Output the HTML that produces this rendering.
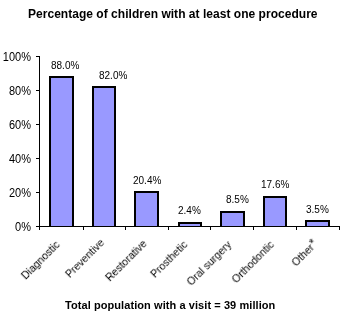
<!DOCTYPE html>
<html><head><meta charset="utf-8">
<style>
html,body{margin:0;padding:0;background:#fff;width:350px;height:320px;overflow:hidden;position:relative}
*{box-sizing:border-box}
.t{will-change:transform;position:absolute;font-family:"Liberation Sans",sans-serif;color:#000;white-space:nowrap;line-height:1}
.b{position:absolute;background:#9999ff;border:2px solid #000;border-bottom:0}
.l{position:absolute;background:#000}
.yl{font-size:11px;text-align:right;width:40px;transform:scaleY(1.12)}
.dl{font-size:10px}
.cl{font-size:10.5px;transform-origin:100% 0;transform:rotate(-45deg)}
</style></head><body>
<div class="t" style="left:28px;top:8px;font-size:12px;font-weight:bold;letter-spacing:0.03px">Percentage of children with at least one procedure</div>

<!-- y axis -->
<div class="l" style="left:39px;top:56px;width:1px;height:174px"></div>
<div class="l" style="left:36px;top:56px;width:3px;height:1px"></div>
<div class="l" style="left:36px;top:90px;width:3px;height:1px"></div>
<div class="l" style="left:36px;top:124px;width:3px;height:1px"></div>
<div class="l" style="left:36px;top:158px;width:3px;height:1px"></div>
<div class="l" style="left:36px;top:192px;width:3px;height:1px"></div>
<div class="l" style="left:36px;top:226px;width:3px;height:1px"></div>

<div class="t yl" style="left:-9px;top:52px">100%</div>
<div class="t yl" style="left:-9px;top:86px">80%</div>
<div class="t yl" style="left:-9px;top:120px">60%</div>
<div class="t yl" style="left:-9px;top:154px">40%</div>
<div class="t yl" style="left:-9px;top:188px">20%</div>
<div class="t yl" style="left:-9px;top:222px">0%</div>

<!-- bars -->
<div class="b" style="left:49px;top:76px;width:25px;height:150px"></div>
<div class="b" style="left:92px;top:86px;width:24px;height:140px"></div>
<div class="b" style="left:134px;top:191px;width:25px;height:35px"></div>
<div class="b" style="left:178px;top:222px;width:24px;height:4px"></div>
<div class="b" style="left:220px;top:211px;width:25px;height:15px"></div>
<div class="b" style="left:263px;top:196px;width:24px;height:30px"></div>
<div class="b" style="left:305px;top:220px;width:25px;height:6px"></div>

<!-- x axis -->
<div class="l" style="left:39px;top:226px;width:301px;height:1px"></div>
<div class="l" style="left:83px;top:226px;width:1px;height:4px"></div>
<div class="l" style="left:125px;top:226px;width:1px;height:4px"></div>
<div class="l" style="left:168px;top:226px;width:1px;height:4px"></div>
<div class="l" style="left:210px;top:226px;width:1px;height:4px"></div>
<div class="l" style="left:253px;top:226px;width:1px;height:4px"></div>
<div class="l" style="left:296px;top:226px;width:1px;height:4px"></div>
<div class="l" style="left:339px;top:226px;width:1px;height:4px"></div>

<!-- data labels -->
<div class="t dl" style="left:51px;top:61px">88.0%</div>
<div class="t dl" style="left:99px;top:71px">82.0%</div>
<div class="t dl" style="left:133px;top:176px">20.4%</div>
<div class="t dl" style="left:178px;top:206px">2.4%</div>
<div class="t dl" style="left:226px;top:195px">8.5%</div>
<div class="t dl" style="left:261px;top:180px">17.6%</div>
<div class="t dl" style="left:306px;top:205px">3.5%</div>

<!-- category labels -->
<div class="t cl" style="right:296px;top:238.8px">Diagnostic</div>
<div class="t cl" style="right:251.5px;top:237.1px">Preventive</div>
<div class="t cl" style="right:208.9px;top:237.9px">Restorative</div>
<div class="t cl" style="right:168.3px;top:239px">Prosthetic</div>
<div class="t cl" style="right:123.8px;top:238.6px">Oral surgery</div>
<div class="t cl" style="right:81.4px;top:239.1px">Orthodontic</div>
<div class="t cl" style="right:39.5px;top:237.9px">Other<span style="font-size:12px;position:relative;top:-1px;left:0.5px">*</span></div>

<div class="t" style="left:65px;top:300px;font-size:11px;font-weight:bold;letter-spacing:0.073px">Total population with a visit = 39 million</div>
</body></html>
